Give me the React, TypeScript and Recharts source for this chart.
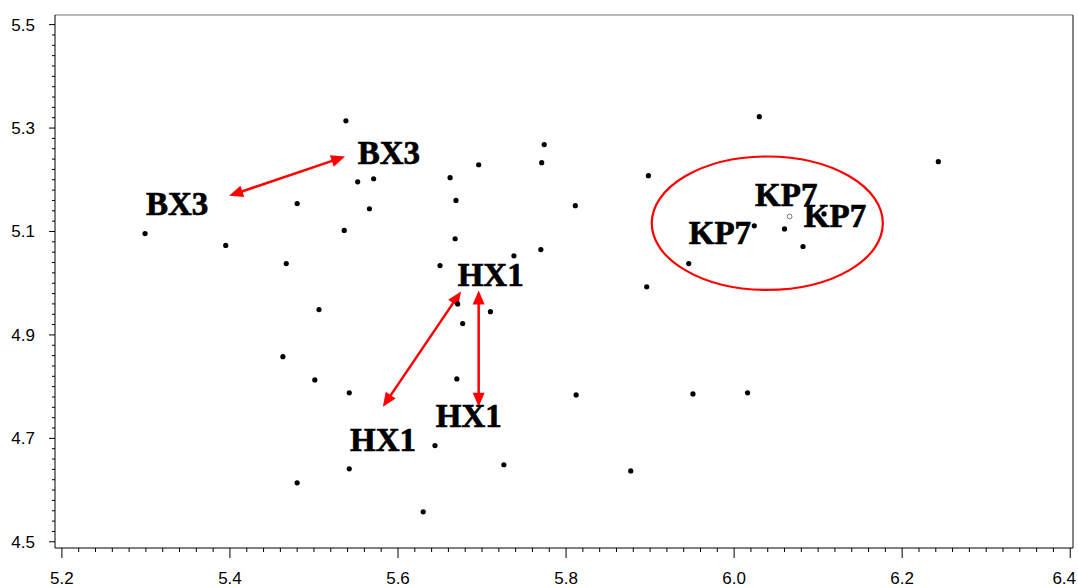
import React from "react";
import { ScatterChart, Scatter, XAxis, YAxis, ReferenceLine, ReferenceArea, ReferenceDot } from "recharts";

// scattered samples (black dots)
const pointX = [
  5.538, 6.03, 6.243, 5.774, 5.771, 5.696, 5.898, 5.662, 5.571, 5.552, 5.669,
  5.48, 5.811, 5.566, 5.536, 5.668, 5.299, 5.395, 5.77, 5.738, 5.467, 5.65,
  5.946, 5.896, 5.671, 5.71, 5.506, 5.677, 5.463, 5.501, 5.67, 5.542, 5.812,
  5.951, 6.016, 5.644, 5.726, 5.542, 5.877, 5.48, 5.63,
  6.024, 6.06, 6.082, 6.107,
];
const pointY = [
  5.314, 5.322, 5.235, 5.268, 5.233, 5.229, 5.208, 5.204, 5.202, 5.196, 5.16,
  5.154, 5.15, 5.144, 5.102, 5.086, 5.096, 5.073, 5.065, 5.053, 5.038, 5.034,
  5.038, 4.993, 4.96, 4.945, 4.949, 4.922, 4.858, 4.813, 4.815, 4.788, 4.784,
  4.786, 4.788, 4.686, 4.649, 4.641, 4.637, 4.614, 4.558,
  5.111, 5.105, 5.071, 5.134,
];

// the one hollow grey sample inside the ellipse
const hollowX = [6.066];
const hollowY = [5.129];

// bold annotation labels, positioned at text baseline-left
const labelText = ["BX3", "BX3", "HX1", "HX1", "HX1", "KP7", "KP7", "KP7"];
const labelX = [5.3, 5.552, 5.671, 5.645, 5.543, 5.946, 6.025, 6.083];
const labelY = [5.1325, 5.231, 4.995, 4.722, 4.676, 5.076, 5.15, 5.109];

// double-headed arrows: [x1, y1, x2, y2]
const arrows = [
  [5.399, 5.169, 5.537, 5.245],
  [5.582, 4.761, 5.675, 4.984],
  [5.696, 4.761, 5.696, 4.986],
];

// ellipse bounding box
const ellipseBox = { x1: 5.902, x2: 6.177, y1: 4.987, y2: 5.245 };

const xMajor = [5.2, 5.4, 5.6, 5.8, 6.0, 6.2, 6.4];
const yMajor = [4.5, 4.7, 4.9, 5.1, 5.3, 5.5];
const xTicks = Array.from({ length: 61 }, (_, i) => +(5.2 + i * 0.02).toFixed(2));
const yTicks = Array.from({ length: 51 }, (_, i) => +(4.5 + i * 0.02).toFixed(2));

const X_DOMAIN: [number, number] = [5.1918, 6.4033];
const Y_DOMAIN: [number, number] = [4.488, 5.5186];

const points = pointX.map((x, i) => ({ x, y: pointY[i] }));
const hollow = hollowX.map((x, i) => ({ x, y: hollowY[i] }));

const isMajor = (v: number, list: number[]) => list.some((m) => Math.abs(m - v) < 1e-6);
const tickFont = { fontFamily: "Liberation Sans, Arial, sans-serif", fontSize: 17, fill: "#000" };

const XTick = (props: any) => {
  const { x, y, payload } = props;
  const major = isMajor(payload.value, xMajor);
  const last = Math.abs(payload.value - 6.4) < 1e-6;
  return (
    <g>
      <line x1={x} y1={y} x2={x} y2={y + (major ? 10 : 4)} stroke="#000" strokeWidth={1} />
      {major && (
        <text x={last ? x - 6 : x} y={y + 36} textAnchor="middle" {...tickFont}>
          {payload.value.toFixed(1)}
        </text>
      )}
    </g>
  );
};

const YTick = (props: any) => {
  const { x, y, payload } = props;
  const major = isMajor(payload.value, yMajor);
  return (
    <g>
      <line x1={x - (major ? 6 : 3)} y1={y} x2={x} y2={y} stroke="#000" strokeWidth={1} />
      {major && (
        <text x={x - 20} y={y + 6} textAnchor="end" {...tickFont}>
          {payload.value.toFixed(1)}
        </text>
      )}
    </g>
  );
};

const Dot = (props: any) => <circle cx={props.cx} cy={props.cy} r={2.6} fill="#000" />;
const HollowDot = (props: any) => (
  <circle cx={props.cx} cy={props.cy} r={2.4} fill="#fff" stroke="#777" strokeWidth={1} />
);

const head = (tx: number, ty: number, ang: number, len: number, half: number) => {
  const bx = tx - Math.cos(ang) * len;
  const by = ty - Math.sin(ang) * len;
  const px = -Math.sin(ang) * half;
  const py = Math.cos(ang) * half;
  return `${tx},${ty} ${bx + px},${by + py} ${bx - px},${by - py}`;
};

const DoubleArrow = (props: any) => {
  const { x1, y1, x2, y2 } = props;
  const ang = Math.atan2(y2 - y1, x2 - x1);
  const len = 14;
  const half = 6;
  const sx = x1 + Math.cos(ang) * (len - 2);
  const sy = y1 + Math.sin(ang) * (len - 2);
  const ex = x2 - Math.cos(ang) * (len - 2);
  const ey = y2 - Math.sin(ang) * (len - 2);
  return (
    <g>
      <line x1={sx} y1={sy} x2={ex} y2={ey} stroke="#f00" strokeWidth={2.5} />
      <polygon points={head(x2, y2, ang, len, half)} fill="#f00" />
      <polygon points={head(x1, y1, ang + Math.PI, len, half)} fill="#f00" />
    </g>
  );
};

const EllipseShape = (props: any) => {
  const { x, y, width, height } = props;
  return (
    <ellipse
      cx={x + width / 2}
      cy={y + height / 2}
      rx={width / 2}
      ry={height / 2}
      fill="none"
      stroke="#f00"
      strokeWidth={2.2}
    />
  );
};

const makeLabel = (text: string) => (props: any) => (
  <text
    x={props.cx}
    y={props.cy}
    fontFamily="Liberation Serif, Times New Roman, serif"
    fontWeight="bold"
    fontSize={33}
    fill="#000"
    stroke="#000"
    strokeWidth={0.7}
  >
    {text}
  </text>
);

export default function App() {
  return (
    <div style={{ position: "absolute", left: 0, top: 0, background: "#fff" }}>
      <ScatterChart width={1078} height={588} margin={{ top: 15, right: 5, bottom: 0, left: 0 }}>
        <XAxis
          type="number"
          dataKey="x"
          domain={X_DOMAIN}
          allowDataOverflow
          ticks={xTicks}
          interval={0}
          tick={<XTick />}
          tickLine={false}
          tickSize={0}
          tickMargin={0}
          height={40}
          axisLine={{ stroke: "#000", strokeWidth: 1 }}
        />
        <YAxis
          type="number"
          dataKey="y"
          domain={Y_DOMAIN}
          allowDataOverflow
          ticks={yTicks}
          interval={0}
          tick={<YTick />}
          tickLine={false}
          tickSize={0}
          tickMargin={0}
          width={55}
          axisLine={{ stroke: "#000", strokeWidth: 1 }}
        />
        <ReferenceLine y={Y_DOMAIN[1]} stroke="#777" strokeWidth={1.2} />
        <ReferenceLine x={X_DOMAIN[1]} stroke="#333" strokeWidth={1.2} />
        <ReferenceArea
          x1={ellipseBox.x1}
          x2={ellipseBox.x2}
          y1={ellipseBox.y1}
          y2={ellipseBox.y2}
          shape={EllipseShape}
        />
        <Scatter data={points} shape={Dot} isAnimationActive={false} />
        <Scatter data={hollow} shape={HollowDot} isAnimationActive={false} />
        {arrows.map((a, i) => (
          <ReferenceLine
            key={`arrow-${i}`}
            segment={[
              { x: a[0], y: a[1] },
              { x: a[2], y: a[3] },
            ]}
            shape={DoubleArrow}
          />
        ))}
        {labelText.map((t, i) => (
          <ReferenceDot key={`lbl-${i}`} x={labelX[i]} y={labelY[i]} r={0} shape={makeLabel(t)} />
        ))}
      </ScatterChart>
    </div>
  );
}
